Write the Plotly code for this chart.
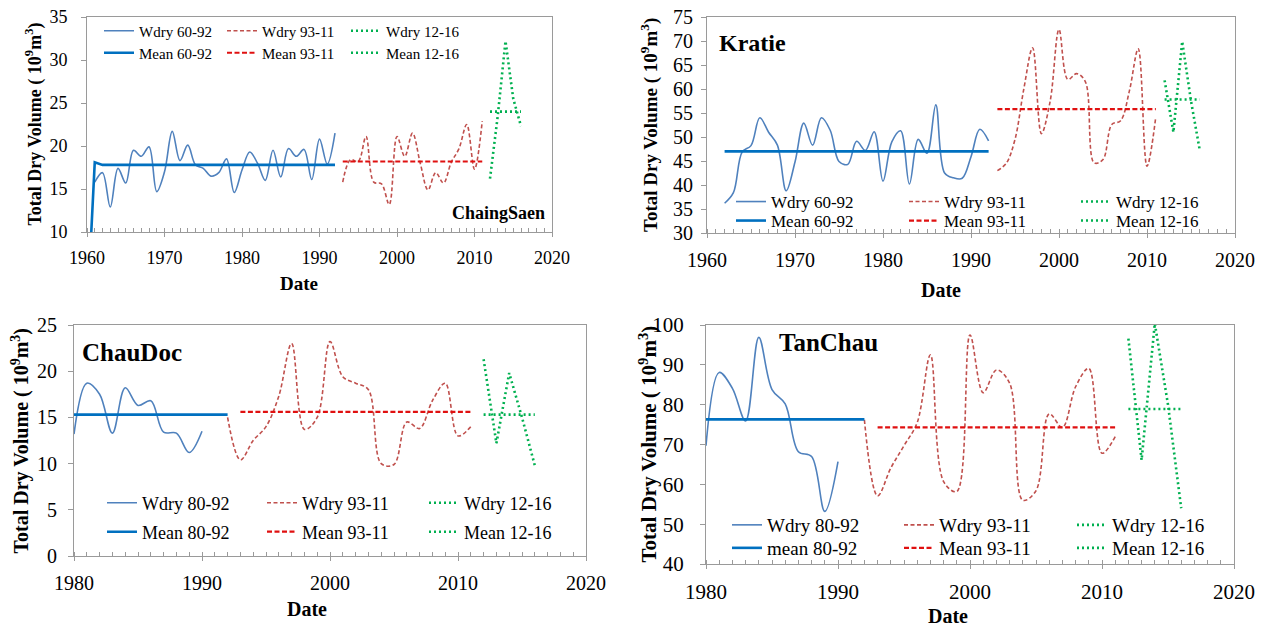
import plotly.graph_objects as go

W, H = 1271, 630
SERIF = "Liberation Serif, Times New Roman, serif"

# ---------------- data ----------------
# ChaingSaen
cs_w1_years = list(range(1961, 1993))
cs_w1 = [15.8, 16.9, 12.9, 17.4, 15.7, 19.5, 18.8, 19.9, 14.7, 17.0, 21.7, 18.3, 20.1, 17.8, 17.4, 16.5,
         16.9, 18.5, 14.6, 17.2, 19.3, 18.0, 16.0, 19.5, 16.4, 19.7, 18.8, 19.6, 16.1, 20.8, 17.9, 21.5]
cs_m1_years = [1960, 1961, 1962, 1992]
cs_m1 = [0.0, 18.1, 17.8, 17.8]
cs_w2_years = list(range(1993, 2012))
cs_w2 = [15.8, 18.4, 18.2, 21.1, 15.8, 15.6, 13.2, 21.1, 18.8, 21.5, 18.0, 14.9, 16.9, 15.7, 18.1, 19.7,
         22.5, 17.3, 22.9]
cs_m2_years = [1993, 2011]
cs_m2 = [18.2, 18.2]
cs_w3_years = [2012, 2013, 2014, 2015, 2016]
cs_w3 = [16.2, 23.5, 32.2, 25.5, 22.3]
cs_m3_years = [2012, 2016]
cs_m3 = [24.0, 24.0]

# Kratie
kr_w1_years = list(range(1962, 1993))
kr_w1 = [36.2, 38.4, 46.9, 48.2, 54.0, 51.0, 48.3, 38.8, 44.8, 52.9, 48.3, 54.0, 51.4, 44.9, 44.3, 49.1,
         47.2, 51.1, 40.8, 49.0, 51.3, 40.2, 49.5, 46.6, 56.7, 42.5, 41.5, 41.4, 45.9, 51.6, 49.2]
kr_m1_years = [1962, 1992]
kr_m1 = [47.0, 47.0]
kr_w2_years = list(range(1993, 2012))
kr_w2 = [43.0, 44.5, 49.5, 60.0, 68.6, 50.7, 57.5, 72.4, 62.0, 63.2, 61.5, 44.6, 45.3, 52.6, 53.4, 59.6,
         68.4, 43.9, 54.2]
kr_m2_years = [1993, 2011]
kr_m2 = [55.8, 55.8]
kr_w3_years = [2012, 2013, 2014, 2015, 2016]
kr_w3 = [61.8, 51.0, 69.9, 57.5, 47.2]
kr_m3_years = [2012, 2016]
kr_m3 = [57.8, 57.8]

# ChauDoc
cd_w1_years = list(range(1980, 1991))
cd_w1 = [13.2, 18.7, 17.5, 13.3, 18.2, 16.3, 16.8, 13.4, 13.3, 11.2, 13.5]
cd_m1_years = [1980, 1992]
cd_m1 = [15.3, 15.3]
cd_w2_years = list(range(1992, 2012))
cd_w2 = [15.0, 10.4, 12.5, 14.0, 17.3, 23.0, 13.7, 15.0, 23.2, 19.4, 18.7, 18.0, 10.0, 9.9, 14.5, 13.8,
         16.8, 18.7, 13.0, 14.0]
cd_m2_years = [1993, 2011]
cd_m2 = [15.6, 15.6]
cd_w3_years = [2012, 2013, 2014, 2015, 2016]
cd_w3 = [21.3, 12.2, 19.8, 15.0, 9.8]
cd_m3_years = [2012, 2016]
cd_m3 = [15.3, 15.3]

# TanChau
tc_w1_years = list(range(1980, 1991))
tc_w1 = [69.7, 88.1, 84.1, 75.9, 96.9, 83.8, 80.2, 68.2, 67.0, 53.2, 65.7]
tc_m1_years = [1980, 1992]
tc_m1 = [76.3, 76.3]
tc_w2_years = list(range(1992, 2012))
tc_w2 = [76.2, 57.1, 64.1, 69.7, 75.5, 92.5, 60.7, 58.2, 97.5, 83.0, 88.7, 85.4, 56.0, 58.4, 77.7, 74.3,
         84.5, 89.1, 67.8, 72.0]
tc_m2_years = [1993, 2011]
tc_m2 = [74.3, 74.3]
tc_w3_years = [2012, 2013, 2014, 2015, 2016]
tc_w3 = [96.6, 66.1, 100.4, 80.0, 54.0]
tc_m3_years = [2012, 2016]
tc_m3 = [78.9, 78.9]

# ---------------- styles ----------------
STY = {
    "w1": dict(color="#4f81bd", width=1.6, dash="solid"),
    "m1": dict(color="#0070c0", width=2.6, dash="solid"),
    "w2": dict(color="#c0504d", width=1.6, dash="4px,2.5px"),
    "m2": dict(color="#e01010", width=2.2, dash="5px,2.5px"),
    "w3": dict(color="#00b050", width=2.6, dash="2px,3px"),
    "m3": dict(color="#00b050", width=2.6, dash="2px,3px"),
}
SHAPE = {"w1": "spline", "w2": "spline", "w3": "linear", "m1": "linear", "m2": "linear", "m3": "linear"}

panels = [
    dict(ax="", xr=[1960, 2020], yr=[10, 35], dy=5, xd=[87, 552], yd=[17, 232],
         label="ChaingSaen", lab_xy=(499, 213), lab_size=18,
         tickfs=18, ttl_fs=18, ttl_x=35, date_xy=(299, 283), date_fs=19, stand=10,
         leg_rows=[31, 53], leg_x=[139, 262, 386], leg_fs=15,
         series=[("w1", "Wdry 60-92", cs_w1_years, cs_w1), ("w2", "Wdry 93-11", cs_w2_years, cs_w2),
                 ("w3", "Wdry 12-16", cs_w3_years, cs_w3), ("m1", "Mean 60-92", cs_m1_years, cs_m1),
                 ("m2", "Mean 93-11", cs_m2_years, cs_m2), ("m3", "Mean 12-16", cs_m3_years, cs_m3)]),
    dict(ax="2", xr=[1960, 2020], yr=[30, 75], dy=5, xd=[707, 1235], yd=[17, 233],
         label="Kratie", lab_xy=(752, 43), lab_size=24,
         tickfs=20, ttl_fs=19, ttl_x=650, date_xy=(941, 290), date_fs=20, stand=4,
         leg_rows=[202, 221], leg_x=[771, 944, 1116], leg_fs=17,
         series=[("w1", "Wdry 60-92", kr_w1_years, kr_w1), ("w2", "Wdry 93-11", kr_w2_years, kr_w2),
                 ("w3", "Wdry 12-16", kr_w3_years, kr_w3), ("m1", "Mean 60-92", kr_m1_years, kr_m1),
                 ("m2", "Mean 93-11", kr_m2_years, kr_m2), ("m3", "Mean 12-16", kr_m3_years, kr_m3)]),
    dict(ax="3", xr=[1980, 2020], yr=[0, 25], dy=5, xd=[74, 586], yd=[325, 556],
         label="ChauDoc", lab_xy=(132, 352), lab_size=25,
         tickfs=20, ttl_fs=20, ttl_x=20, date_xy=(307, 609), date_fs=20, stand=7,
         leg_rows=[503, 532], leg_x=[142, 302, 464], leg_fs=18,
         series=[("w1", "Wdry 80-92", cd_w1_years, cd_w1), ("w2", "Wdry 93-11", cd_w2_years, cd_w2),
                 ("w3", "Wdry 12-16", cd_w3_years, cd_w3), ("m1", "Mean 80-92", cd_m1_years, cd_m1),
                 ("m2", "Mean 93-11", cd_m2_years, cd_m2), ("m3", "Mean 12-16", cd_m3_years, cd_m3)]),
    dict(ax="4", xr=[1980, 2020], yr=[40, 100], dy=10, xd=[706, 1234], yd=[325, 564],
         label="TanChau", lab_xy=(828, 343), lab_size=25,
         tickfs=21, ttl_fs=21, ttl_x=648, date_xy=(948, 616), date_fs=20, stand=12,
         leg_rows=[525, 548], leg_x=[767, 939, 1112], leg_fs=19,
         series=[("w1", "Wdry 80-92", tc_w1_years, tc_w1), ("w2", "Wdry 93-11", tc_w2_years, tc_w2),
                 ("w3", "Wdry 12-16", tc_w3_years, tc_w3), ("m1", "mean 80-92", tc_m1_years, tc_m1),
                 ("m2", "Mean 93-11", tc_m2_years, tc_m2), ("m3", "Mean 12-16", tc_m3_years, tc_m3)]),
]

fig = go.Figure()
layout = dict(width=W, height=H, margin=dict(l=0, r=0, t=0, b=0, autoexpand=False),
              paper_bgcolor="white", plot_bgcolor="white", font=dict(family=SERIF, color="black"))
annotations = []
AXC = "#9a9a9a"
leg_i = 0
for p in panels:
    a = p["ax"]
    xk, yk = "xaxis" + a, "yaxis" + a
    layout[xk] = dict(domain=[p["xd"][0] / W, p["xd"][1] / W], range=p["xr"], dtick=10, tick0=1960,
                      automargin=False,
                      showgrid=False, zeroline=False, showline=True, mirror=True, linecolor=AXC, linewidth=1,
                      ticks="outside", ticklen=4, tickcolor=AXC, anchor="y" + a,
                      tickfont=dict(family=SERIF, size=p["tickfs"], color="black"), ticklabelstandoff=5,
                      minor=dict(ticks="inside", dtick=1, ticklen=4, tickcolor=AXC, showgrid=False))
    layout[yk] = dict(domain=[1 - p["yd"][1] / H, 1 - p["yd"][0] / H], range=p["yr"], dtick=p["dy"],
                      automargin=False,
                      showgrid=False, zeroline=False, showline=True, mirror=True, linecolor=AXC, linewidth=1,
                      ticks="outside", ticklen=5, tickcolor=AXC, anchor="x" + a,
                      tickfont=dict(family=SERIF, size=p["tickfs"], color="black"),
                      ticklabelstandoff=p["stand"])
    for j, (key, name, xs, ys) in enumerate(p["series"]):
        leg_i += 1
        lname = "legend" if leg_i == 1 else f"legend{leg_i}"
        fig.add_trace(go.Scatter(x=xs, y=ys, mode="lines", name=name, line=dict(shape=SHAPE[key], **STY[key]),
                                 xaxis="x" + a, yaxis="y" + a, legend=lname, showlegend=True,
                                 hoverinfo="x+y+name"))
        row = 0 if key.startswith("w") else 1
        col = int(key[1]) - 1
        layout[lname] = dict(x=(p["leg_x"][col] - 40) / W, xanchor="left",
                             y=1 - p["leg_rows"][row] / H, yanchor="middle",
                             bgcolor="rgba(0,0,0,0)", borderwidth=0, itemwidth=30,
                             font=dict(family=SERIF, size=p["leg_fs"], color="black"))
    annotations.append(dict(text="<b>" + p["label"] + "</b>", x=p["lab_xy"][0] / W, y=1 - p["lab_xy"][1] / H,
                            xref="paper", yref="paper", showarrow=False, xanchor="center", yanchor="middle",
                            font=dict(family=SERIF, size=p["lab_size"], color="black")))
    annotations.append(dict(text="<b>Date</b>", x=p["date_xy"][0] / W, y=1 - p["date_xy"][1] / H,
                            xref="paper", yref="paper", showarrow=False, xanchor="center", yanchor="middle",
                            font=dict(family=SERIF, size=p["date_fs"], color="black")))
    yc = (p["yd"][0] + p["yd"][1]) / 2
    annotations.append(dict(text="<b>Total Dry Volume ( 10<sup>9</sup>m<sup>3</sup>)</b>",
                            x=p["ttl_x"] / W, y=1 - yc / H, textangle=-90,
                            xref="paper", yref="paper", showarrow=False, xanchor="center", yanchor="middle",
                            font=dict(family=SERIF, size=p["ttl_fs"], color="black")))

layout["annotations"] = annotations
fig.update_layout(**layout)
fig.write_html("out.html", config={"displayModeBar": False},
               post_script="document.documentElement.style.margin='0';document.body.style.margin='0';"
                           "document.body.style.padding='0';document.body.style.overflow='hidden';")
